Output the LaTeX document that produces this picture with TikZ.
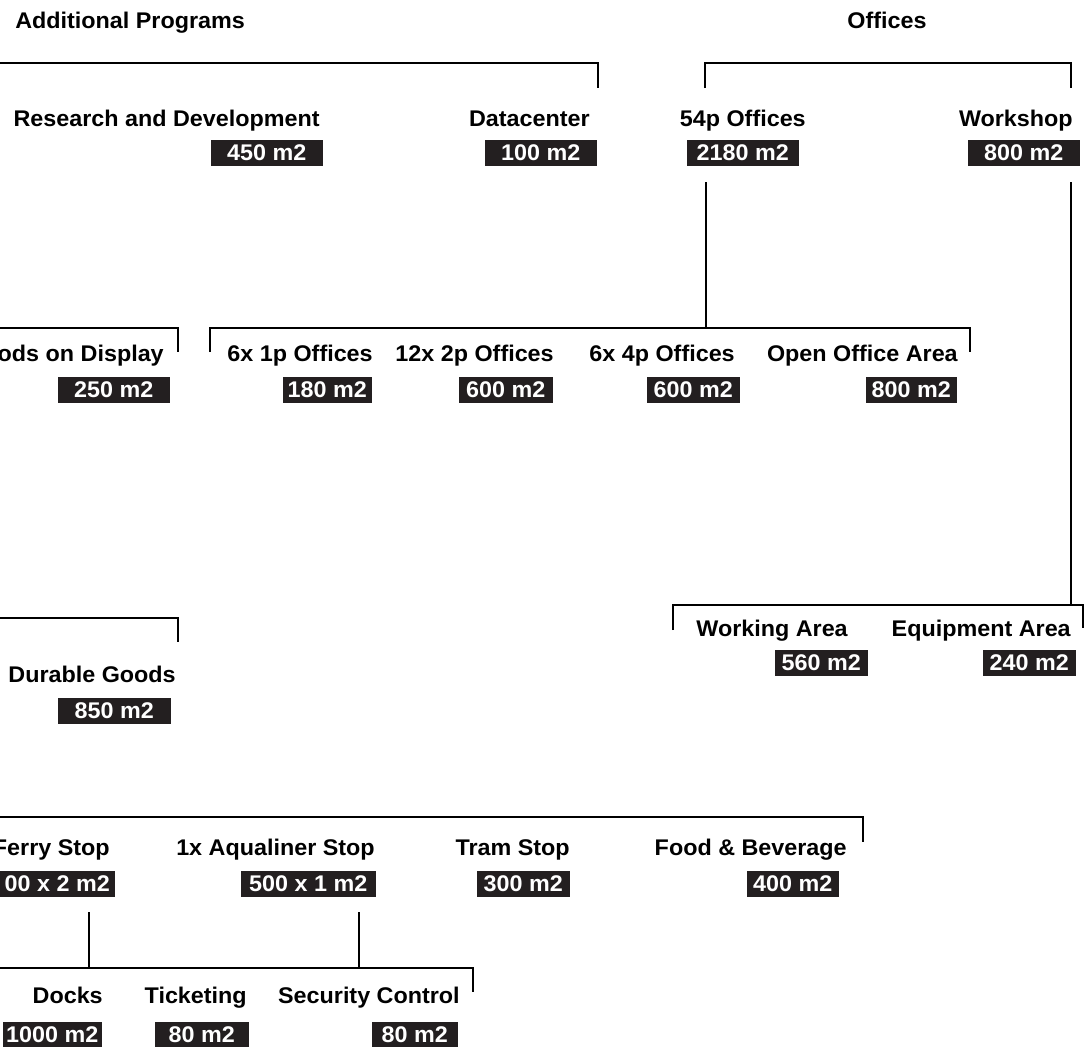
\documentclass[tikz,border=0pt]{standalone}
\usepackage{fontspec}
\setmainfont{Liberation Sans}[FakeStretch=1.03]
\definecolor{inkbar}{HTML}{231F20}

\begin{document}
\begin{tikzpicture}[x=0.75pt, y=-0.75pt,
		font=\fontsize{17}{20}\selectfont\bfseries,
		link/.style={draw=black, line width=2.2pt},
		lbl/.style={anchor=base east, inner sep=0pt},
		area/.style={anchor=east, fill=inkbar, text=white, inner sep=0pt, minimum height=20pt, minimum width=#1*0.75pt}]
		\useasboundingbox (0,0) rectangle (1085,1046);
		\node[lbl, anchor=base west] (tAdd) at (15,28) {Additional Programs};
		\node[lbl, anchor=base] (tOff) at (887,28) {Offices};

		\node[lbl] (rd) at (320,126) {Research and Development};
		\node[area=112] (rdA) at (323,153) {450 m2};
		\node[lbl] (dc) at (590,126) {Datacenter};
		\node[area=112] (dcA) at (597,153) {100 m2};
		\node[lbl] (o54) at (806,126) {54p Offices};
		\node[area=112] (o54A) at (799,153) {2180 m2};
		\node[lbl] (ws) at (1073,126) {Workshop};
		\node[area=112] (wsA) at (1080,153) {800 m2};

		\node[lbl] (gd) at (164,361) {ods on Display};
		\node[area=112] (gdA) at (170,390) {250 m2};
		\node[lbl] (o1) at (373,361) {6x 1p Offices};
		\node[area=89] (o1A) at (372,390) {180 m2};
		\node[lbl] (o2) at (554,361) {12x 2p Offices};
		\node[area=94] (o2A) at (553,390) {600 m2};
		\node[lbl] (o4) at (735,361) {6x 4p Offices};
		\node[area=93] (o4A) at (740,390) {600 m2};
		\node[lbl] (oo) at (958,361) {Open Office Area};
		\node[area=91] (ooA) at (957,390) {800 m2};

		\node[lbl] (wa) at (848,636) {Working Area};
		\node[area=93] (waA) at (868,663) {560 m2};
		\node[lbl] (ea) at (1071,636) {Equipment Area};
		\node[area=93] (eaA) at (1076,663) {240 m2};

		\node[lbl] (dg) at (176,682) {Durable Goods};
		\node[area=113] (dgA) at (171,711) {850 m2};

		\node[lbl] (fs) at (110,855) {Ferry Stop};
		\node[area=115] (fsA) at (115,884) {00 x 2 m2};
		\node[lbl] (aq) at (375,855) {1x Aqualiner Stop};
		\node[area=135] (aqA) at (376,884) {500 x 1 m2};
		\node[lbl] (ts) at (570,855) {Tram Stop};
		\node[area=93] (tsA) at (570,884) {300 m2};
		\node[lbl] (fb) at (847,855) {Food \& Beverage};
		\node[area=92] (fbA) at (839,884) {400 m2};

		\node[lbl] (dk) at (103,1003) {Docks};
		\node[area=99] (dkA) at (102,1035) {1000 m2};
		\node[lbl] (tk) at (247,1003) {Ticketing};
		\node[area=94] (tkA) at (249,1035) {80 m2};
		\node[lbl] (sc) at (460,1003) {Security Control};
		\node[area=86] (scA) at (458,1035) {80 m2};

		\coordinate (addBar) at (0,63);
		\coordinate (addEnd) at (598,63);
		\coordinate (offBarL) at (705,63);
		\coordinate (offBarR) at (1071,63);
		\coordinate (o54J) at (706,182);
		\coordinate (subL) at (210,328);
		\coordinate (subR) at (970,328);
		\coordinate (gdBar) at (0,328);
		\coordinate (gdEnd) at (178,328);
		\coordinate (wsJ) at (1071,182);
		\coordinate (wBarL) at (673,605);
		\coordinate (wBarR) at (1083,605);
		\coordinate (dgBar) at (0,618);
		\coordinate (dgEnd) at (178,618);
		\coordinate (trBar) at (0,817);
		\coordinate (trEnd) at (863,817);
		\coordinate (fsJ) at (89,912);
		\coordinate (aqJ) at (359,912);
		\coordinate (dBarL) at (0,968);
		\coordinate (dBarR) at (473,968);

		\draw[link] (addBar) -- (addEnd) -- ++(0,25);
		\draw[link] (offBarL) ++(0,25) -- (offBarL) -- (offBarR) -- ++(0,25);
		\draw[link] (o54J) -- (o54J |- subL);
		\draw[link] (subL) ++(0,24) -- (subL) -- (subR) -- ++(0,24);
		\draw[link] (gdBar) -- (gdEnd) -- ++(0,24);
		\draw[link] (wsJ) -- (wsJ |- wBarR);
		\draw[link] (wBarL) ++(0,25) -- (wBarL) -- (wBarR) -- ++(0,23);
		\draw[link] (dgBar) -- (dgEnd) -- ++(0,24);
		\draw[link] (trBar) -- (trEnd) -- ++(0,25);
		\draw[link] (fsJ) -- (fsJ |- dBarR);
		\draw[link] (aqJ) -- (aqJ |- dBarR);
		\draw[link] (dBarL) -- (dBarR) -- ++(0,24);
	\end{tikzpicture}
\end{document}
